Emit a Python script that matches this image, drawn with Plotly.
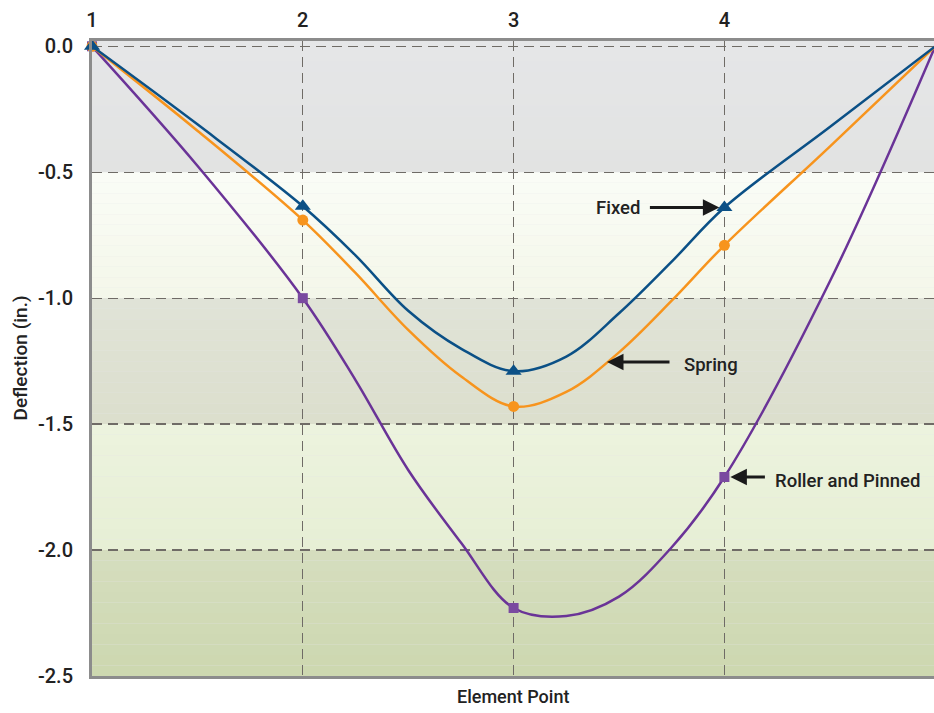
import plotly.graph_objects as go

# ---- data ----
element_points = [1, 2, 3, 4, 5]
fixed = [0.0, -0.635, -1.29, -0.64, 0.0]
spring = [0.0, -0.69, -1.43, -0.79, 0.0]
roller_pinned = [0.0, -1.0, -2.23, -1.71, 0.0]

# curve shape (positions between the element points)
curve_x = [1, 1.5, 2, 2.25, 2.5, 2.75, 3, 3.25, 3.5, 3.75, 4, 4.5, 5]
fixed_curve = [0.0, -0.31, -0.635, -0.83, -1.05, -1.2, -1.29, -1.232, -1.06, -0.855, -0.64, -0.32, 0.0]
spring_curve = [0.0, -0.335, -0.69, -0.90, -1.126, -1.31, -1.43, -1.372, -1.215, -1.01, -0.79, -0.398, 0.0]
roller_curve = [0.0, -0.474, -1.0, -1.325, -1.682, -1.97, -2.23, -2.262, -2.185, -1.989, -1.71, -0.934, 0.0]

x_ticks = [1, 2, 3, 4, 5]
y_ticks = [0.0, -0.5, -1.0, -1.5, -2.0, -2.5]
y_ticklabels = ["0.0", "-0.5", "-1.0", "-1.5", "-2.0", "-2.5"]

FONT = "Roboto, Liberation Sans, sans-serif"
TXT = "#222222"
C_FIXED = "#0b5086"
C_SPRING = "#f7941d"
C_ROLLER = "#6a3397"
C_ROLLER_MK = "#7a4aa0"

fig = go.Figure()

for cy, py, col, mcol, sym, msize, nm in [
    (roller_curve, roller_pinned, C_ROLLER, C_ROLLER_MK, "square", 10, "Roller and Pinned"),
    (spring_curve, spring, C_SPRING, C_SPRING, "circle", 11, "Spring"),
    (fixed_curve, fixed, C_FIXED, C_FIXED, "triangle-up", 14, "Fixed"),
]:
    fig.add_trace(go.Scatter(x=curve_x, y=cy, mode="lines",
                             line=dict(color=col, width=2.5, shape="spline", smoothing=1.0),
                             cliponaxis=False, name=nm, hoverinfo="skip"))
    fig.add_trace(go.Scatter(x=element_points, y=py, mode="markers",
                             marker=dict(symbol=sym, size=msize, color=mcol),
                             cliponaxis=False, name=nm))

# ---- background bands with vertical gradients ----
def hex2rgb(h):
    h = h.lstrip("#")
    return tuple(int(h[i:i + 2], 16) for i in (0, 2, 4))

bands = [
    (0.03, -0.5, "#e5e6e8", "#e2e3e2"),
    (-0.5, -1.0, "#fafcf6", "#f4f7ea"),
    (-1.0, -1.5, "#e0e3d7", "#dcdfcd"),
    (-1.5, -2.0, "#ecf3de", "#e7efd5"),
    (-2.0, -2.5, "#d5ddbe", "#cdd8b0"),
]
shapes = []
NS = 12
for y0, y1, c0, c1 in bands:
    a, b = hex2rgb(c0), hex2rgb(c1)
    for i in range(NS):
        t = i / (NS - 1)
        c = tuple(round(a[k] + (b[k] - a[k]) * t) for k in range(3))
        ys = y0 + (y1 - y0) * i / NS
        ye = y0 + (y1 - y0) * (i + 1) / NS
        shapes.append(dict(type="rect", xref="paper", yref="y", x0=0, x1=1, y0=ys, y1=ye,
                           fillcolor="rgb(%d,%d,%d)" % c, line=dict(width=0), layer="below"))

PX = 210.8  # pixels per x unit
AFONT = dict(family=FONT, size=18.5, color=TXT, weight=500)
annotations = [
    dict(x=4, y=fixed[3], xref="x", yref="y", text="", showarrow=True, ax=-76, ay=0,
         axref="pixel", ayref="pixel", arrowhead=2, arrowsize=1.1, arrowwidth=3,
         arrowcolor="#1a1a1a", standoff=5),
    dict(x=1 + (642 - 92) / PX, y=fixed[3], xref="x", yref="y", text="Fixed", showarrow=False,
         xanchor="right", yanchor="middle", font=AFONT),
    dict(x=1 + (607 - 92) / PX, y=-1.253, xref="x", yref="y", text="", showarrow=True, ax=64, ay=0,
         axref="pixel", ayref="pixel", arrowhead=2, arrowsize=1.1, arrowwidth=3,
         arrowcolor="#1a1a1a", standoff=0),
    dict(x=1 + (682 - 92) / PX, y=-1.265, xref="x", yref="y", text="Spring", showarrow=False,
         xanchor="left", yanchor="middle", font=AFONT),
    dict(x=4, y=roller_pinned[3], xref="x", yref="y", text="", showarrow=True, ax=42, ay=0,
         axref="pixel", ayref="pixel", arrowhead=2, arrowsize=1.1, arrowwidth=3,
         arrowcolor="#1a1a1a", standoff=6),
    dict(x=1 + (773 - 92) / PX, y=-1.725, xref="x", yref="y", text="Roller and Pinned",
         showarrow=False, xanchor="left", yanchor="middle", font=AFONT),
    dict(x=0.5, y=-0.033, xref="paper", yref="paper", text="Element Point", showarrow=False,
         xanchor="center", yanchor="middle", font=dict(family=FONT, size=18, color=TXT, weight=500)),
    dict(x=-0.0855, y=0.5, xref="paper", yref="paper", text="Deflection (in.)", showarrow=False,
         textangle=-90, xanchor="center", yanchor="middle",
         font=dict(family=FONT, size=19, color=TXT, weight=500)),
]

TFONT = dict(family=FONT, size=20, color=TXT, weight=500)
fig.update_layout(
    width=934, height=713,
    margin=dict(l=92, r=0, t=41, b=37, autoexpand=False),
    paper_bgcolor="white", plot_bgcolor="#e4e5e6",
    showlegend=False,
    shapes=shapes,
    annotations=annotations,
    font=dict(family=FONT, size=18, color=TXT),
    xaxis=dict(range=[1, 1 + 842 / PX], side="top", tickvals=x_ticks,
               ticktext=[str(v) for v in x_ticks], showgrid=True, gridcolor="#6f6b66",
               griddash="10px,6px", gridwidth=1.3, zeroline=False, showline=True,
               linecolor="#8c8c8c", linewidth=3, mirror=True, ticks="", automargin=False,
               ticklabelstandoff=3, tickfont=TFONT),
    yaxis=dict(range=[-2.5, 0.021], tickvals=y_ticks, ticktext=y_ticklabels, showgrid=True,
               gridcolor="#6f6b66", griddash="10px,6px", gridwidth=1.3, zeroline=False,
               showline=True, linecolor="#8c8c8c", linewidth=3, ticks="", automargin=False,
               ticklabelstandoff=12, tickfont=TFONT),
)

fig.write_html(
    "out.html",
    config={"displayModeBar": False, "staticPlot": True},
    post_script="document.body.style.margin='0';document.documentElement.style.overflow='hidden';",
)
